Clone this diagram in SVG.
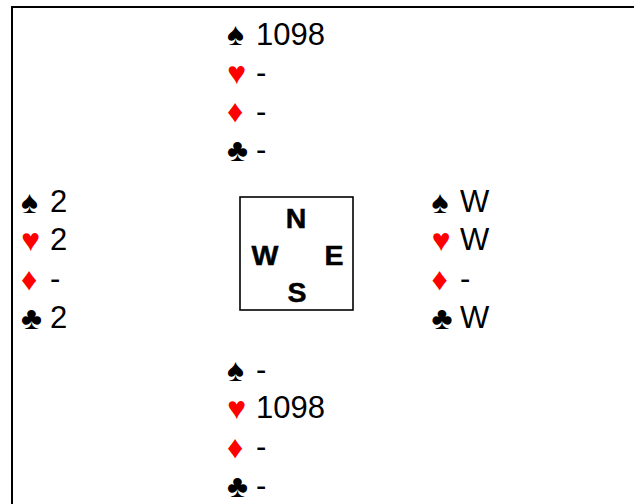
<svg xmlns="http://www.w3.org/2000/svg" width="634" height="504" viewBox="0 0 634 504">
<style>
.t{font-family:"Liberation Sans",Arial,sans-serif;font-size:31px;fill:#000}
.s{font-family:"Liberation Sans",Arial,sans-serif;font-size:32px}
.b{fill:#000}
.r{fill:#ff0000}
.c{font-family:"Liberation Sans",Arial,sans-serif;font-size:28.5px;font-weight:bold;fill:#000;stroke:#000;stroke-width:0.5px;text-anchor:middle}
</style>
<rect x="12" y="7" width="640" height="520" fill="#fff" stroke="#000" stroke-width="2"/>
<g id="connectors"></g>
<g id="north">
<text class="s b" x="227" y="45">♠</text><text class="t" x="256" y="44.5">1098</text>
<text class="s r" x="227" y="83.5">♥</text><text class="t" x="256" y="83">-</text>
<text class="s r" x="227" y="122">♦</text><text class="t" x="256" y="121.7">-</text>
<text class="s b" x="227" y="161">♣</text><text class="t" x="256" y="160.3">-</text>
</g>
<g id="west">
<text class="s b" x="21" y="212.5">♠</text><text class="t" x="50" y="211.7">2</text>
<text class="s r" x="21" y="251">♥</text><text class="t" x="50" y="250.3">2</text>
<text class="s r" x="21" y="289.5">♦</text><text class="t" x="50" y="289">-</text>
<text class="s b" x="21" y="328.5">♣</text><text class="t" x="50" y="327.7">2</text>
</g>
<g id="east">
<text class="s b" x="431.5" y="212.5">♠</text><text class="t" x="460" y="211.7">W</text>
<text class="s r" x="431.5" y="251">♥</text><text class="t" x="460" y="250.3">W</text>
<text class="s r" x="431.5" y="289.5">♦</text><text class="t" x="460" y="289">-</text>
<text class="s b" x="431.5" y="328.5">♣</text><text class="t" x="460" y="327.7">W</text>
</g>
<g id="south">
<text class="s b" x="227" y="380.5">♠</text><text class="t" x="256" y="379.7">-</text>
<text class="s r" x="227" y="419">♥</text><text class="t" x="256" y="418.3">1098</text>
<text class="s r" x="227" y="457.5">♦</text><text class="t" x="256" y="457">-</text>
<text class="s b" x="227" y="496.5">♣</text><text class="t" x="256" y="495.7">-</text>
</g>
<g id="compass">
<rect x="240" y="197" width="113" height="113" fill="none" stroke="#000" stroke-width="1.6"/>
<text class="c" x="296" y="227.5">N</text>
<text class="c" x="265" y="264.5">W</text>
<text class="c" x="334" y="264.5">E</text>
<text class="c" x="297" y="302">S</text>
</g>
</svg>
